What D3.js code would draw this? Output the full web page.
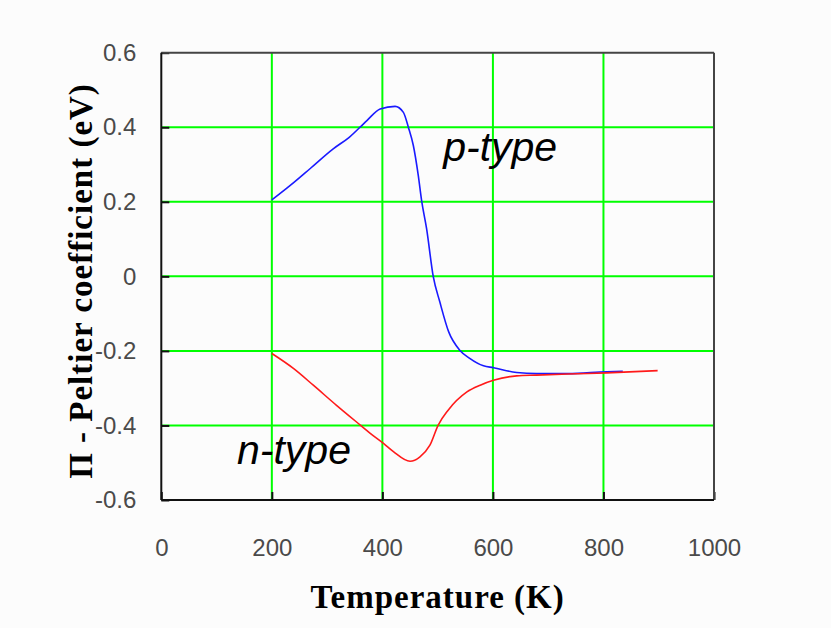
<!DOCTYPE html>
<meta charset="utf-8">
<style>
body { margin: 0; background: #fcfcfc; }
.tick text { font: 24px "Liberation Sans", Arial, sans-serif; fill: #4a4a4a; }
.grid line { stroke: #00ff00; stroke-width: 2px; }
.axis-title { font: bold 33px "Liberation Serif", "Times New Roman", serif; letter-spacing: 1px; fill: #000; }
.note { font: italic 41px "Liberation Sans", Arial, sans-serif; fill: #000; }
</style>
<svg width="831" height="628"></svg>
<script src="https://d3js.org/d3.v7.min.js"></script>
<script>

var svg = d3.select("svg"),
    margin = {top: 52.7, right: 117, bottom: 128, left: 161.3},
    width = +svg.attr("width") - margin.left - margin.right,
    height = +svg.attr("height") - margin.top - margin.bottom;

// values
var xTicks = [0, 200, 400, 600, 800, 1000];
var yTicks = [-0.6, -0.4, -0.2, 0, 0.2, 0.4, 0.6];

var pTemp = [200, 240, 270, 311, 340, 372, 396, 423, 438, 447, 456, 465, 471, 480, 492, 504, 520, 540, 558, 583, 601, 643, 679, 736, 806, 835];
var pPi   = [0.205, 0.252, 0.29, 0.342, 0.373, 0.418, 0.449, 0.456, 0.44, 0.40, 0.351, 0.27, 0.203, 0.128, 0.0, -0.069, -0.149, -0.198, -0.22, -0.24, -0.245, -0.258, -0.261, -0.261, -0.256, -0.255];

var nTemp = [200, 239, 275, 317, 360, 378, 402, 420, 450, 468, 486, 501, 519, 553, 577, 601, 643, 679, 736, 806, 898];
var nPi   = [-0.207, -0.247, -0.292, -0.346, -0.399, -0.421, -0.448, -0.470, -0.496, -0.484, -0.453, -0.399, -0.359, -0.310, -0.292, -0.279, -0.267, -0.265, -0.262, -0.259, -0.253];

var x = d3.scaleLinear().domain([0, 1000]).range([0, width]);
var y = d3.scaleLinear().domain([-0.6, 0.6]).range([height, 0]);

var g = svg.append("g")
    .attr("transform", "translate(" + margin.left + "," + margin.top + ")");

// green grid
g.append("g").attr("class", "grid")
  .selectAll("line")
  .data(xTicks.slice(1, -1))
  .enter().append("line")
    .attr("x1", x).attr("x2", x)
    .attr("y1", 0).attr("y2", height);

g.append("g").attr("class", "grid")
  .selectAll("line")
  .data(yTicks.slice(1, -1))
  .enter().append("line")
    .attr("y1", y).attr("y2", y)
    .attr("x1", 0).attr("x2", width);

// axes, ticks pointing inward
var xAxis = g.append("g")
    .attr("transform", "translate(0," + height + ")")
    .call(d3.axisBottom(x).tickValues(xTicks).tickSize(-8).tickPadding(39).tickFormat(d3.format("d")));

var yAxis = g.append("g")
    .call(d3.axisLeft(y).tickValues(yTicks).tickSize(-8).tickPadding(25)
      .tickFormat(function(d) { return d === 0 ? "0" : d3.format(".1f")(d).replace("\u2212", "-"); }));

[xAxis, yAxis].forEach(function(a) {
  a.select(".domain").remove();
  a.selectAll(".tick line").attr("stroke", "#111").attr("stroke-width", 2);
});

// lines
var line = d3.line()
    .curve(d3.curveMonotoneX)
    .x(function(d) { return x(d[0]); })
    .y(function(d) { return y(d[1]); });

g.append("path")
    .datum(d3.zip(pTemp, pPi))
    .attr("fill", "none")
    .attr("stroke", "#1a1aff")
    .attr("stroke-width", 1.6)
    .attr("d", line);

g.append("path")
    .datum(d3.zip(nTemp, nPi))
    .attr("fill", "none")
    .attr("stroke", "#ff1a1a")
    .attr("stroke-width", 1.6)
    .attr("d", line);

// frame
g.append("line").attr("x1", 0).attr("x2", width).attr("y1", 0).attr("y2", 0)
    .attr("stroke", "#444").attr("stroke-width", 2);
g.append("line").attr("x1", width).attr("x2", width).attr("y1", 0).attr("y2", height)
    .attr("stroke", "#444").attr("stroke-width", 2);
g.append("line").attr("x1", 0).attr("x2", 0).attr("y1", 0).attr("y2", height)
    .attr("stroke", "#111").attr("stroke-width", 2);
g.append("line").attr("x1", 0).attr("x2", width).attr("y1", height).attr("y2", height)
    .attr("stroke", "#111").attr("stroke-width", 2);

// labels on curves
g.append("text").attr("class", "note")
    .attr("x", x(510)).attr("y", y(0.31))
    .text("p-type");

g.append("text").attr("class", "note")
    .attr("x", x(137)).attr("y", y(-0.504))
    .text("n-type");

// axis titles
svg.append("text").attr("class", "axis-title")
    .attr("x", margin.left + width / 2)
    .attr("y", 608)
    .attr("text-anchor", "middle")
    .text("Temperature (K)");

svg.append("text").attr("class", "axis-title")
    .attr("transform", "translate(92,281) rotate(-90)")
    .attr("text-anchor", "middle")
    .text("\u03A0 - Peltier coefficient (eV)");

</script>
